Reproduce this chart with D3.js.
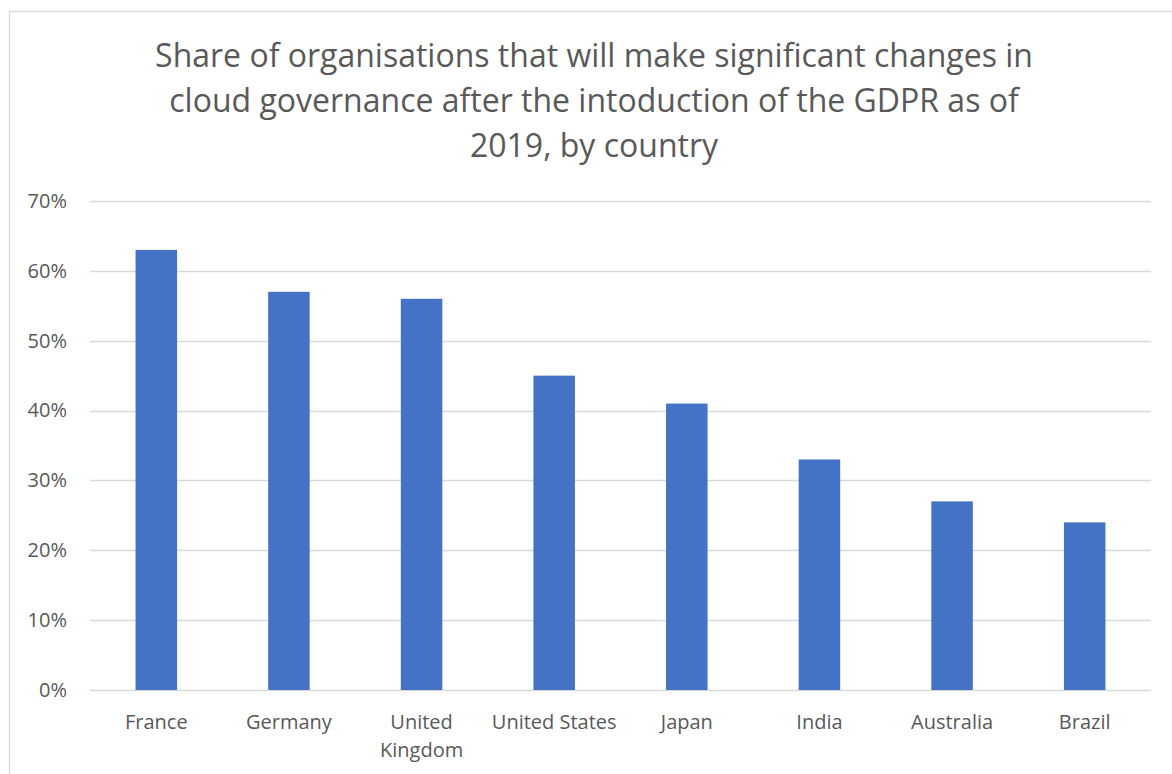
<!DOCTYPE html>
<html>
<head>
<meta charset="utf-8">
<script src="https://cdn.jsdelivr.net/npm/d3@7"></script>
<style>
  html, body { margin: 0; padding: 0; background: #fff; }
  svg { display: block; }
  text { font-family: "Open Sans", "Noto Sans", sans-serif; fill: #595959; }
</style>
</head>
<body>
<svg id="chart" width="1172" height="774"></svg>
<script>
// Survey results: share of organisations planning significant cloud-governance changes
const countries = ["France", "Germany", "United Kingdom", "United States", "Japan", "India", "Australia", "Brazil"];
const shares = [63, 57, 56, 45, 41, 33, 27, 24];
const yTicks = [0, 10, 20, 30, 40, 50, 60, 70];
const titleLines = [
  "Share of organisations that will make significant changes in",
  "cloud governance after the intoduction of the GDPR as of",
  "2019, by country"
];

const svg = d3.select("#chart");

// chart frame (extends beyond the right and bottom edges)
svg.append("rect")
  .attr("x", 9.5).attr("y", 11.5)
  .attr("width", 1200).attr("height", 800)
  .attr("fill", "#fff").attr("stroke", "#d9d9d9").attr("stroke-width", 1.3);

const plot = { left: 90, right: 1151, top: 201, bottom: 690 };

const x = d3.scaleBand()
  .domain(countries)
  .range([plot.left, plot.right])
  .paddingInner(0.687)
  .paddingOuter(0.3435);

const y = d3.scaleLinear()
  .domain([0, 70])
  .range([plot.bottom, plot.top]);

// title
const title = svg.append("text")
  .attr("text-anchor", "middle")
  .style("font-size", "32px");
titleLines.forEach((line, i) => {
  title.append("tspan")
    .attr("x", 594)
    .attr("y", 67 + i * 45)
    .text(line);
});

// gridlines
svg.append("g")
  .selectAll("line")
  .data(yTicks)
  .join("line")
  .attr("x1", plot.left).attr("x2", plot.right)
  .attr("y1", d => Math.round(y(d)) + 0.5)
  .attr("y2", d => Math.round(y(d)) + 0.5)
  .attr("stroke", "#d9d9d9")
  .attr("stroke-width", 1.3);

// y axis labels
const yAxis = d3.axisLeft(y)
  .tickValues(yTicks)
  .tickFormat(d => d + "%")
  .tickSize(0)
  .tickPadding(23);
const gy = svg.append("g")
  .attr("transform", `translate(${plot.left},0)`)
  .call(yAxis);
gy.select(".domain").remove();
gy.selectAll("text")
  .style("font-size", "20px")
  .style("font-family", null)
  .attr("fill", "#595959");

// bars
svg.append("g")
  .selectAll("rect")
  .data(countries)
  .join("rect")
  .attr("x", d => x(d))
  .attr("width", x.bandwidth())
  .attr("y", (d, i) => y(shares[i]))
  .attr("height", (d, i) => y(0) - y(shares[i]))
  .attr("fill", "#4472c4");

// x axis labels, wrapped where the band is too narrow
const xAxis = d3.axisBottom(x).tickSize(0).tickPadding(0);
const gx = svg.append("g")
  .attr("transform", `translate(0,${plot.bottom})`)
  .call(xAxis);
gx.select(".domain").remove();
gx.selectAll("text")
  .style("font-size", "20px")
  .style("font-family", null)
  .attr("fill", "#595959")
  .attr("dy", null)
  .attr("y", 0)
  .each(function(d) {
    const t = d3.select(this);
    const lines = d === "United Kingdom" ? ["United", "Kingdom"] : [d];
    t.text(null);
    lines.forEach((ln, i) => {
      t.append("tspan")
        .attr("x", 0)
        .attr("y", 39 + i * 28)
        .text(ln);
    });
  });
</script>
</body>
</html>
